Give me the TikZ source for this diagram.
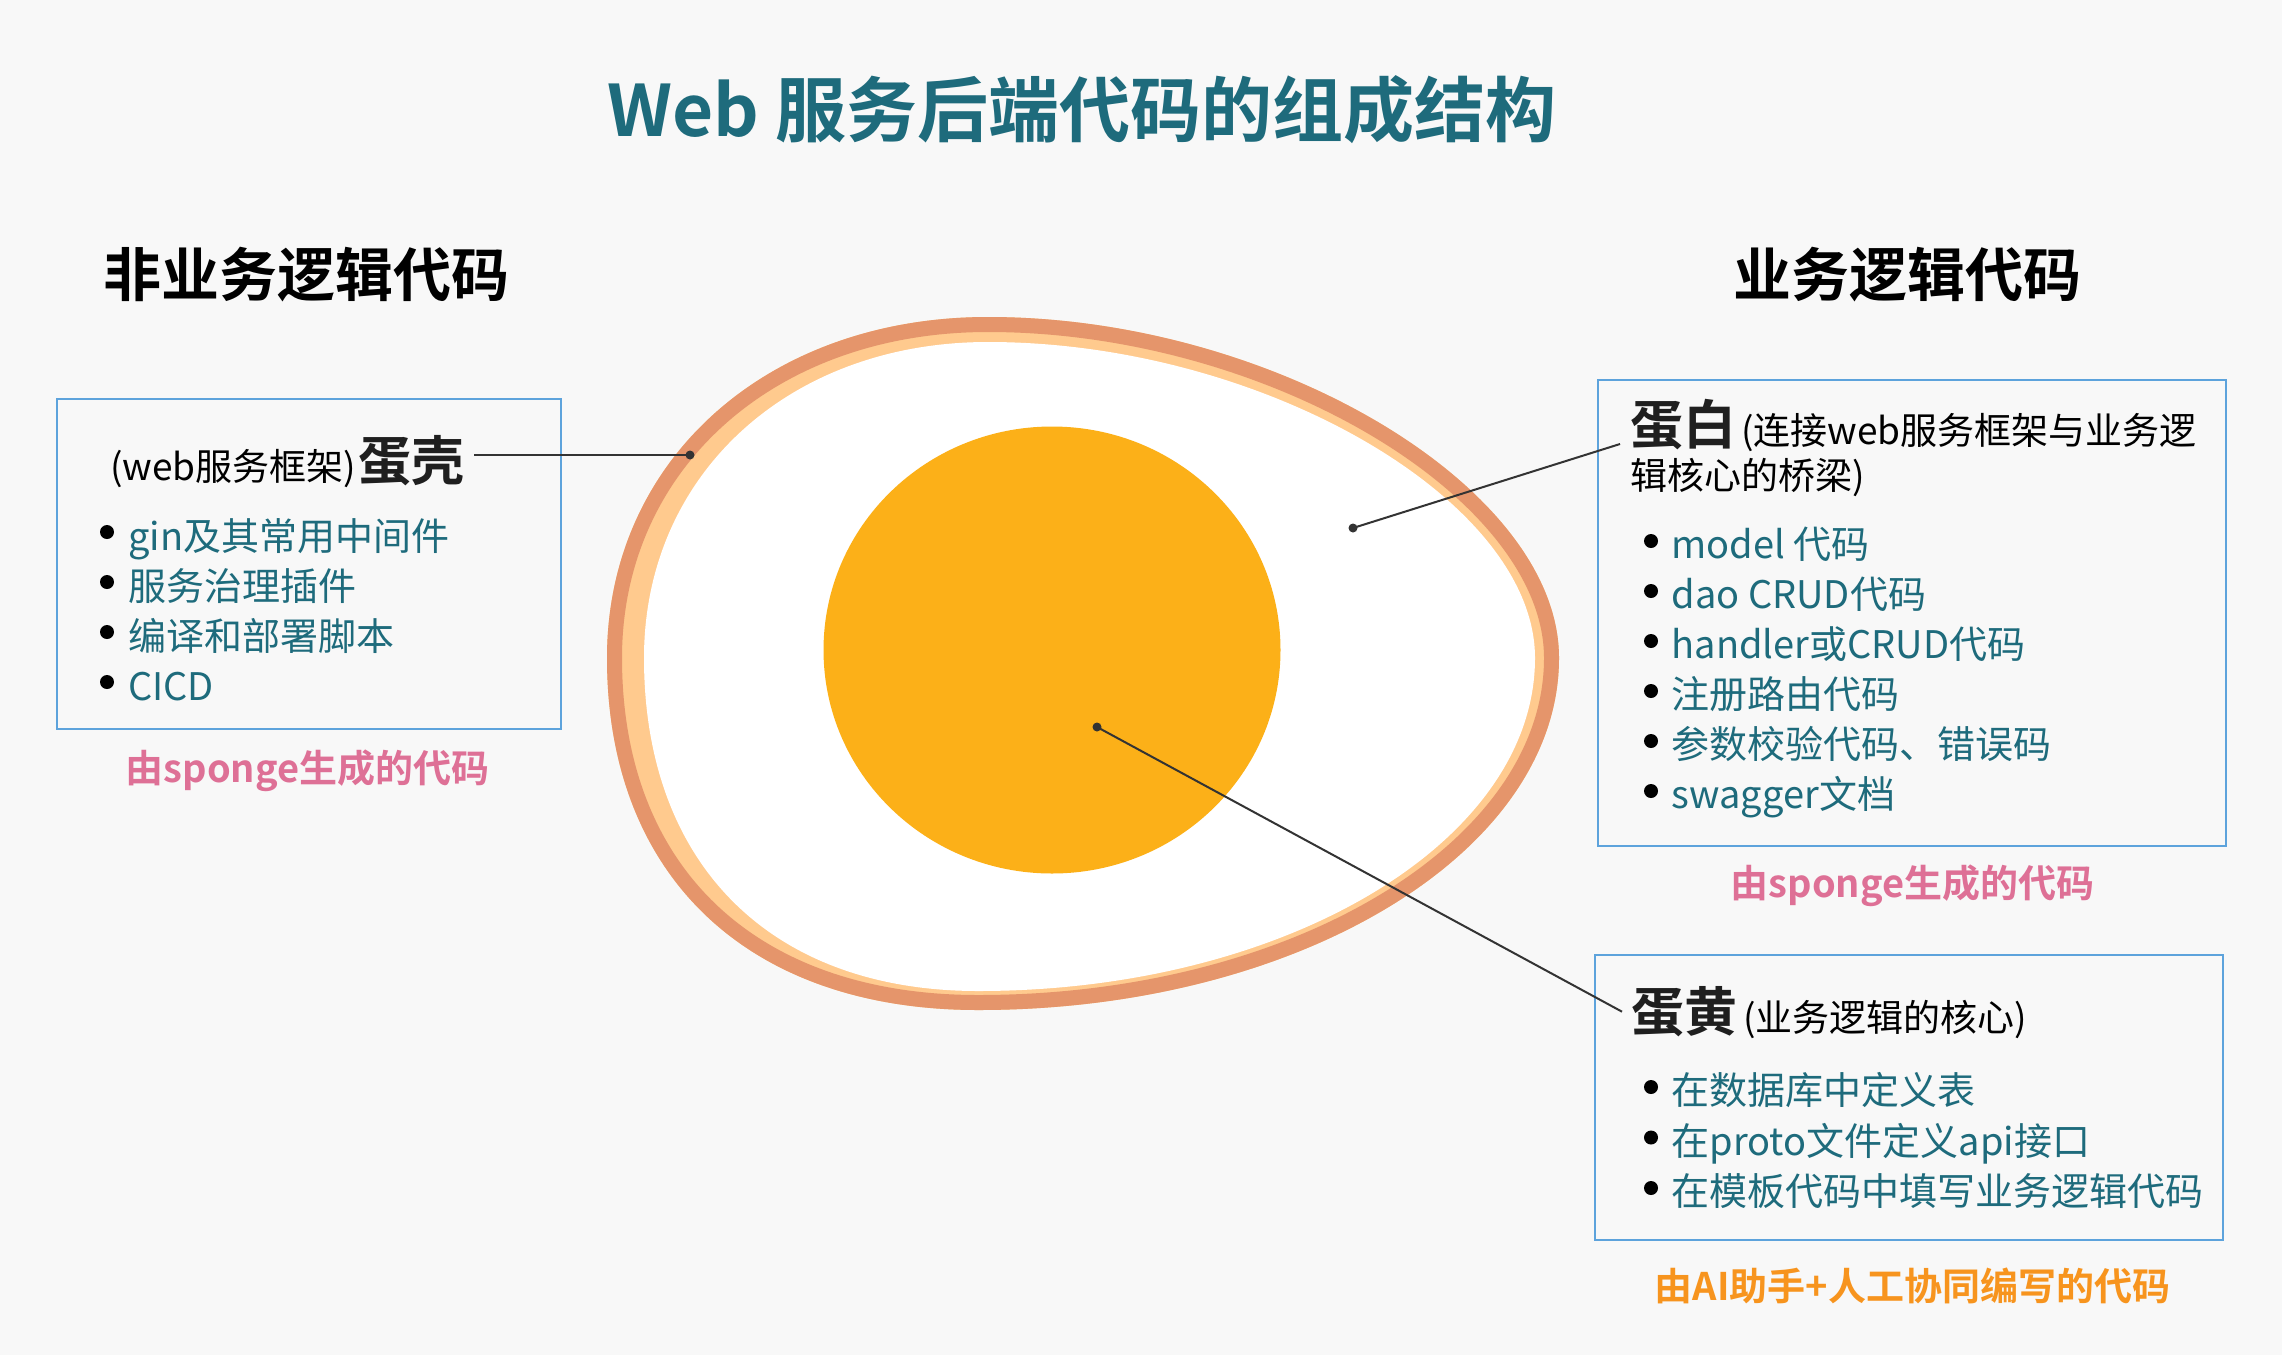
\documentclass[tikz,border=0pt]{standalone}
\usepackage{fontspec}
\setmainfont{Noto Sans CJK SC}[BoldFont={Noto Sans CJK SC Bold}]
\definecolor{cbg}{HTML}{F8F8F8}
\definecolor{cteal}{HTML}{1E6B7C}
\definecolor{cbox}{HTML}{5DA3DC}
\definecolor{cpink}{HTML}{DE7096}
\definecolor{corange}{HTML}{F7941E}
\definecolor{csalmon}{HTML}{E5956B}
\definecolor{cpeach}{HTML}{FFCA8E}
\definecolor{cyolk}{HTML}{FCB018}
\definecolor{cline}{HTML}{333333}
\newcommand\eggouter{(988,317) .. controls (1273.5,317) and (1559,487.5) .. (1559,658)
  .. controls (1559,852.4) and (1298.9,1010) .. (978,1010)
  .. controls (748,1010) and (607,876.2) .. (607,658)
  .. controls (607,460.2) and (767,317) .. (988,317) -- cycle}
\newcommand\egginner{(988,342) .. controls (1261.5,342) and (1535,500) .. (1535,658)
  .. controls (1535,842) and (1285.6,991) .. (978,991)
  .. controls (771,991) and (644,864.5) .. (644,658)
  .. controls (644,475) and (788.5,342) .. (988,342) -- cycle}
\tikzset{
 item/.style={anchor=base west, inner sep=0pt, text=cteal, font=\fontsize{38}{46}\selectfont},
 bul/.style={circle, fill=black, inner sep=0pt, minimum size=14pt},
 head/.style={anchor=base, inner sep=0pt, text=black, font=\bfseries\fontsize{58}{70}\selectfont},
 big/.style={anchor=base west, inner sep=10pt, text=black!88, font=\bfseries\fontsize{53}{64}\selectfont},
 note/.style={anchor=base west, inner sep=0pt, text=black, font=\fontsize{37}{45}\selectfont},
 captxt/.style={anchor=base, inner sep=0pt, font=\bfseries\fontsize{38}{46}\selectfont},
 box/.style={draw=cbox, line width=2pt},
 markdot/.style={circle, fill=cline, inner sep=0pt, minimum size=9pt},
 conn/.style={draw=cline, line width=2pt},
}
\begin{document}
\begin{tikzpicture}[x=1pt,y=-1pt]
\useasboundingbox (0,0) rectangle (2282,1355);
\fill[cbg] (0,0) rectangle (2282,1355);

% title and headers
\node[anchor=base, inner sep=0pt, text=cteal, font=\bfseries\fontsize{71}{85}\selectfont] (title) at (1082,136) {Web 服务后端代码的组成结构};
\node[head] (hleft) at (306,296) {非业务逻辑代码};
\node[head] (hright) at (1907,296) {业务逻辑代码};

% egg
\fill[cpeach] \eggouter;
\begin{scope}
\clip \eggouter;
\draw[csalmon, line width=30pt] \eggouter;
\end{scope}
\fill[white] \egginner;
\fill[cyolk] (1052,650) ellipse [x radius=228.5pt, y radius=223.5pt];

\node[markdot] (shelldot) at (690,455) {};
\node[markdot] (whitedot) at (1353,528) {};
\node[markdot] (yolkdot) at (1097,727) {};

% left box
\draw[box] (56.5,399.3) rectangle (560.6,729.3);
\node[note] (shellnote) at (110,480) {(web服务框架)};
\node[big] (shelllbl) at (348,480) {蛋壳};
\foreach \t [count=\i] in {gin及其常用中间件, 服务治理插件, 编译和部署脚本, CICD} {
  \node[bul] (lb\i) at (107,{532+50*(\i-1)}) {};
  \node[item] (lt\i) at (128,{550+50*(\i-1)}) {\t};
}
\node[captxt, text=cpink] (lcap) at (307.5,782.5) {由sponge生成的代码};

% right box 1
\draw[box] (1598,380) rectangle (2225.5,845.7);
\node[big] (whitelbl) at (1620,444) {蛋白};
\node[note] (whitenote1) at (1741,444) {(连接web服务框架与业务逻};
\node[note] (whitenote2) at (1630,489) {辑核心的桥梁)};
\foreach \t [count=\i] in {model 代码, dao CRUD代码, handler或CRUD代码, 注册路由代码, 参数校验代码、错误码, swagger文档} {
  \node[bul] (rb\i) at (1651,{541+50*(\i-1)}) {};
  \node[item] (rt\i) at (1671.5,{558.5+50*(\i-1)}) {\t};
}
\node[captxt, text=cpink] (rcap1) at (1912.6,897.5) {由sponge生成的代码};

% right box 2
\draw[box] (1594.7,955) rectangle (2222.9,1240);
\node[big, inner sep=9pt] (yolklbl) at (1622,1031.5) {蛋黄};
\node[note] (yolknote) at (1743,1031) {(业务逻辑的核心)};
\foreach \t [count=\i] in {在数据库中定义表, 在proto文件定义api接口, 在模板代码中填写业务逻辑代码} {
  \node[bul] (yb\i) at (1651,{1087+50.5*(\i-1)}) {};
  \node[item] (yt\i) at (1671.5,{1104.5+50.5*(\i-1)}) {\t};
}
\node[captxt, text=corange] (rcap2) at (1912.6,1300.5) {由AI助手+人工协同编写的代码};

% connectors
\draw[conn] (shelllbl.east |- shelldot) -- (shelldot.center);
\draw[conn] (whitelbl.base west) -- (whitedot.center);
\draw[conn] (yolklbl.west) -- (yolkdot.center);
\end{tikzpicture}
\end{document}
